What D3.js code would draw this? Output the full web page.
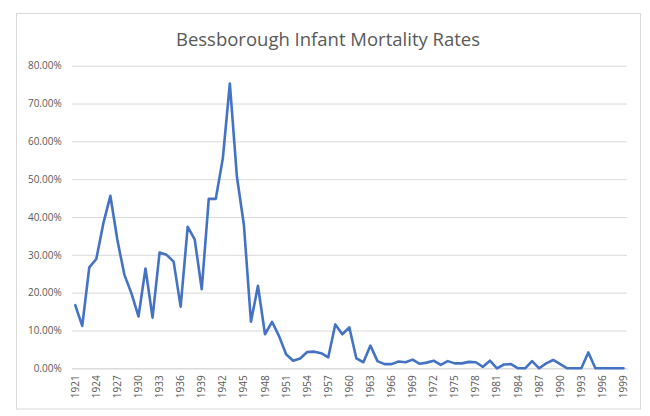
<!DOCTYPE html>
<html><head><meta charset="utf-8">
<script src="https://cdn.jsdelivr.net/npm/d3@7"></script>
<style>body{margin:0;background:#fff;}svg{display:block;}</style>
</head><body>
<svg id="chart" width="650" height="416"></svg>
<script>
const years = d3.range(1921, 2000);
const rates = [
 16.7, 11.2, 26.7, 28.9, 38.3, 45.6, 33.9, 24.7, 19.8, 13.7,
 26.4, 13.4, 30.6, 30.0, 28.2, 16.3, 37.4, 34.1, 20.9, 44.8,
 44.8, 55.5, 75.3, 50.7, 37.9, 12.3, 21.8, 9.0, 12.3, 8.5,
 3.7, 2.0, 2.6, 4.3, 4.4, 4.0, 2.9, 11.6, 9.0, 10.8,
 2.6, 1.6, 6.0, 1.9, 1.1, 1.1, 1.8, 1.6, 2.3, 1.2,
 1.5, 2.0, 0.9, 1.9, 1.3, 1.3, 1.7, 1.6, 0.4, 2.0,
 0.0, 1.0, 1.1, 0.0, 0.0, 1.9, 0.0, 1.3, 2.2, 1.1,
 0.0, 0.0, 0.0, 4.2, 0.0, 0.0, 0.0, 0.0, 0.0
];
const yTicks = [0, 10, 20, 30, 40, 50, 60, 70, 80];
const xTickYears = d3.range(1921, 2000, 3);
const title = "Bessborough Infant Mortality Rates";

const svg = d3.select("#chart");
const pLeft = 71.7, pRight = 627, pTop = 65.7, pBottom = 368.3;

svg.append("rect").attr("x", 16.5).attr("y", 13.5).attr("width", 624).attr("height", 395.5)
  .attr("fill", "#fff").attr("stroke", "#d9d9d9").attr("stroke-width", 1);

const x = d3.scaleBand().domain(years).range([pLeft, pRight]);
const y = d3.scaleLinear().domain([0, 80]).range([pBottom, pTop]);

svg.append("text").attr("x", 328).attr("y", 46).attr("text-anchor", "middle")
  .attr("font-family", "Open Sans, Noto Sans, sans-serif").attr("font-size", 18.5)
  .attr("fill", "#595959").text(title);

const yAxis = d3.axisLeft(y).tickValues(yTicks).tickSize(-(pRight - pLeft)).tickPadding(10)
  .tickFormat(d => d.toFixed(2) + "%");
const gy = svg.append("g").attr("transform", `translate(${pLeft},0)`).call(yAxis);
gy.select(".domain").remove();
gy.selectAll(".tick line").attr("stroke", "#d9d9d9").attr("stroke-width", 1);
gy.selectAll(".tick text").attr("fill", "#595959").attr("font-size", 10)
  .attr("font-family", "Open Sans, Noto Sans, sans-serif");

const xAxis = d3.axisBottom(x).tickValues(xTickYears).tickSize(0).tickPadding(8);
const gx = svg.append("g").attr("transform", `translate(0,${pBottom})`).call(xAxis);
gx.select(".domain").attr("stroke", "#d9d9d9");
gx.selectAll(".tick text").attr("fill", "#595959").attr("font-size", 10)
  .attr("font-family", "Open Sans, Noto Sans, sans-serif")
  .attr("transform", "rotate(-90)").attr("text-anchor", "end")
  .attr("x", -7).attr("y", 0).attr("dy", "0.35em");

const line = d3.line().x((d, i) => x(years[i]) + x.bandwidth() / 2).y(d => y(d));
svg.append("path").datum(rates).attr("d", line).attr("fill", "none")
  .attr("stroke", "#4472c4").attr("stroke-width", 2.6).attr("stroke-linejoin", "round")
  .attr("stroke-linecap", "round");
</script>
</body></html>
